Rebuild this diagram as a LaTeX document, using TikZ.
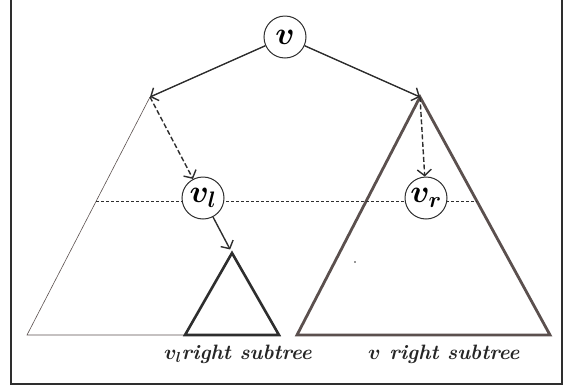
\RequirePackage{fix-cm}
\documentclass[tikz,border=0pt]{standalone}
\usepackage{amsmath,bm}
\usetikzlibrary{arrows.meta}
\definecolor{subgray}{HTML}{5B504E}
\definecolor{inkgray}{HTML}{2E2E2E}

\begin{document}
\begin{tikzpicture}[x=1pt, y=-1pt, >={Straight Barb[length=6pt,width=14pt]},
  vert/.style={draw=inkgray, circle, fill=white, minimum size=42pt, inner sep=0pt, line width=1pt, font=\fontsize{32}{34}\selectfont},
  link/.style={->, line width=1.4pt, draw=inkgray},
  dlink/.style={->, line width=1.4pt, draw=inkgray, dash pattern=on 5pt off 2.5pt},
  cut/.style={line width=1pt, draw=inkgray, dash pattern=on 3pt off 2pt},
  lbl/.style={anchor=base west, inner sep=0pt, text=black!85, font=\fontsize{20.8}{22}\selectfont\bfseries\itshape}]
\useasboundingbox (0,0) rectangle (571,389);
\draw[line width=1.5pt, inkgray] (11,0) -- (11,384) -- (562,384) -- (562,0);
% apexes of the subtrees
\coordinate (la) at (150,97);
\coordinate (ra) at (420,97);
\coordinate (sa) at (232,253);
% left subtree (thin) and right subtrees
\draw[line width=0.6pt, subgray] (la) -- (27,335) -- (185,335);
\draw[line width=2.6pt, inkgray, line join=miter] (sa) -- (279,335) -- (185,335) -- cycle;
\draw[line width=2.8pt, subgray, line join=miter] (ra) -- (550,335) -- (297,335) -- cycle;
\fill[inkgray] (355,262) circle (0.8pt);
% level line
\draw[cut] (96,201) -- (477,201);
\node[vert] (v) at (285,37) {$\bm{v}$};
\node[vert] (vl) at (203,198) {$\bm{v_l}$};
\node[vert] (vr) at (426,198) {$\bm{v_r}$};
\draw[link] (v) -- (la);
\draw[link] (v) -- (ra);
\draw[dlink] (la) -- (vl);
\draw[dlink] (ra) -- (vr);
\draw[link, shorten >=4pt] (vl) -- (sa);
\node[lbl] (lsub) at (164,359) {$\bm{v_l}$right subtree};
\node[lbl] (rsub) at (368,359) {$\bm{v}$ right subtree};
\end{tikzpicture}
\end{document}
